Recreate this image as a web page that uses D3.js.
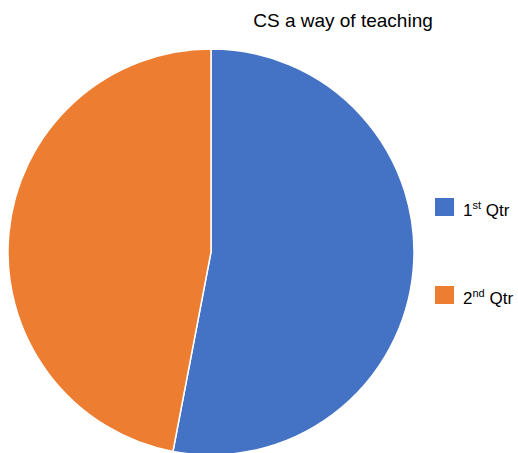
<!DOCTYPE html>
<html>
<head>
<meta charset="utf-8">
<script src="https://cdn.jsdelivr.net/npm/d3@7"></script>
<style>
  body { margin: 0; background: #fff; }
  text { font-family: "Liberation Sans", Arial, sans-serif; fill: #000; }
</style>
</head>
<body>
<div id="chart"></div>
<script>
var categories = ["1st Qtr", "2nd Qtr"];
var values = [53, 47];
var colours = ["#4472C4", "#ED7D31"];

var width = 518, height = 453;
var cx = 211, cy = 252, radius = 203;

var svg = d3.select('#chart').append('svg')
    .attr('width', width)
    .attr('height', height);

// title
svg.append('text')
    .attr('x', 343)
    .attr('y', 27)
    .attr('text-anchor', 'middle')
    .style('font-size', '19px')
    .text('CS a way of teaching');

var pie = d3.pie().value(function(d) { return d; }).sort(null);
var arc = d3.arc().innerRadius(0).outerRadius(radius);

var g = svg.append('g')
    .attr('transform', 'translate(' + cx + ',' + cy + ')');

g.selectAll('path')
    .data(pie(values))
    .enter().append('path')
    .attr('d', arc)
    .attr('fill', function(d, i) { return colours[i]; })
    .attr('stroke', '#fff')
    .attr('stroke-width', 1.5);

// legend
var legend = svg.append('g').attr('class', 'legend');
var item = legend.selectAll('g')
    .data(categories)
    .enter().append('g')
    .attr('transform', function(d, i) { return 'translate(435,' + (198 + i * 88) + ')'; });

item.append('rect')
    .attr('width', 19)
    .attr('height', 18)
    .attr('fill', function(d, i) { return colours[i]; });

var lbl = item.append('text')
    .attr('x', 28)
    .attr('y', 18)
    .style('font-size', '17px');
lbl.append('tspan').text(function(d) { return d.charAt(0); });
lbl.append('tspan')
    .attr('dy', -7)
    .style('font-size', '11px')
    .text(function(d) { return d.slice(1, d.indexOf(' ')); });
lbl.append('tspan')
    .attr('dy', 7)
    .text(function(d) { return ' ' + d.slice(d.indexOf(' ') + 1); });
</script>
</body>
</html>
